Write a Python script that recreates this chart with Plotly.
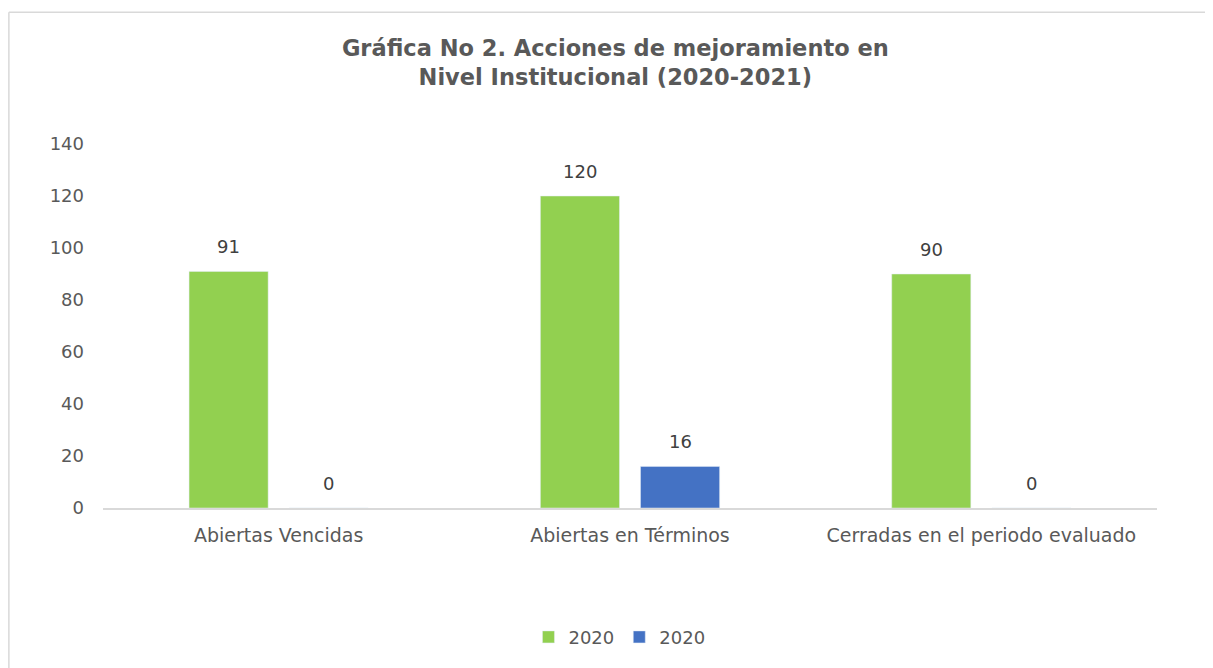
import plotly.graph_objects as go

categories = ["Abiertas Vencidas", "Abiertas en Términos", "Cerradas en el periodo evaluado"]
series_a_name = "2020"
series_a = [91, 120, 90]
series_b_name = "2020"
series_b = [0, 16, 0]
y_ticks = [0, 20, 40, 60, 80, 100, 120, 140]

font_family = "DejaVu Sans, Arial, sans-serif"
label_color = "#404040"
axis_color = "#595959"

fig = go.Figure()
fig.add_trace(go.Bar(
    x=categories, y=series_a, name=series_a_name,
    marker=dict(color="#92D050"),
))
fig.add_trace(go.Bar(
    x=categories, y=series_b, name=series_b_name,
    marker=dict(color="#4472C4"),
))

# data labels above each bar
for vals, shift in ((series_a, -50), (series_b, 50)):
    for cat, v in zip(categories, vals):
        fig.add_annotation(
            x=cat, y=v, xref="x", yref="y", text=str(v), showarrow=False,
            xshift=shift, yshift=12, yanchor="bottom",
            font=dict(size=18, color=label_color, family=font_family),
        )

fig.update_layout(
    width=1205, height=660,
    margin=dict(l=95, r=56, t=136, b=155),
    paper_bgcolor="white", plot_bgcolor="white",
    barmode="group", bargap=0.43, bargroupgap=0.21,
    font=dict(family=font_family, color=axis_color, size=18),
    title=dict(
        text="<b>Gráfica No 2. Acciones de mejoramiento en<br>Nivel Institucional (2020-2021)</b>",
        x=0.504, xanchor="center", y=0.927, yanchor="top",
        font=dict(size=22.5, color=axis_color, family=font_family),
    ),
    legend=dict(
        orientation="h", x=0.49, xanchor="center", y=-0.355, yanchor="middle",
        font=dict(size=18, color=axis_color),
        traceorder="normal", itemwidth=30,
    ),
    showlegend=True,
)
fig.update_xaxes(
    showline=True, linecolor="#d9d9d9", linewidth=1.5,
    ticks="", tickfont=dict(size=19, color=axis_color),
    showgrid=False, ticklabelstandoff=9,
)
fig.update_yaxes(
    range=[0, 140], tickvals=y_ticks, showgrid=False, zeroline=False,
    showline=False, tickfont=dict(size=18, color=axis_color), ticks="",
    ticklabelstandoff=18,
)
# outer chart border (left and top edges visible in the reference)
fig.add_shape(type="line", xref="paper", yref="paper",
              x0=-0.0893, x1=-0.0893, y0=1.3618, y1=-0.45,
              line=dict(color="#d9d9d9", width=1.5))
fig.add_shape(type="line", xref="paper", yref="paper",
              x0=-0.0893, x1=1.06, y0=1.3618, y1=1.3618,
              line=dict(color="#d9d9d9", width=1.5))

fig.write_html("out.html")
